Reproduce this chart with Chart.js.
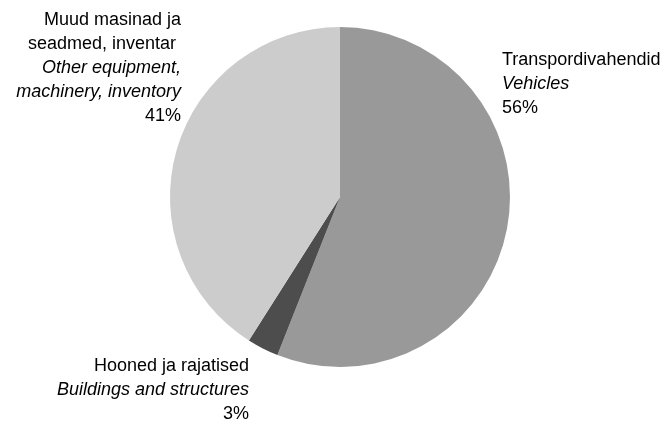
<!DOCTYPE html>
<html>
<head>
<meta charset="utf-8">
<script src="https://cdn.jsdelivr.net/npm/chart.js@4"></script>
<style>
  html, body { margin: 0; padding: 0; background: #fff; }
  #wrap { width: 661px; height: 421px; }
</style>
</head>
<body>
<div id="wrap"><canvas id="pie" width="661" height="421"></canvas></div>
<script>
// Põhivara struktuur / fixed assets by type
const categoriesEt = ['Transpordivahendid', 'Hooned ja rajatised', 'Muud masinad ja seadmed, inventar'];
const categoriesEn = ['Vehicles', 'Buildings and structures', 'Other equipment, machinery, inventory'];
const shares = [56, 3, 41];
const sliceColors = ['#999999', '#4d4d4d', '#cccccc'];

// label text as printed, line by line (italic lines are the english names)
const labelLines = [
    [['Transpordivahendid', false], ['Vehicles', true], ['56%', false]],
    [['Hooned ja rajatised', false], ['Buildings and structures', true], ['3%', false]],
    [['Muud masinad ja', false], ['seadmed, inventar ', false], ['Other equipment,', true], ['machinery, inventory', true], ['41%', false]]
];

// where each label block sits, relative to the pie centre
const labelPlace = [
    { dx: 162, dy: -132, align: 'left' },
    { dx: -91, dy: 174, align: 'right' },
    { dx: -159, dy: -172, align: 'right' }
];

const FONT = '"Liberation Sans", Arial, sans-serif';
const LINE_H = 24;

const pieLabels = {
    id: 'pieLabels',
    afterDraw(chart) {
        const ctx = chart.ctx;
        const arc = chart.getDatasetMeta(0).data[0];
        const cx = arc.x, cy = arc.y;
        ctx.save();
        ctx.fillStyle = '#000';
        ctx.textBaseline = 'alphabetic';
        labelLines.forEach((lines, i) => {
            const p = labelPlace[i];
            ctx.textAlign = p.align;
            lines.forEach(([txt, italic], j) => {
                ctx.font = (italic ? 'italic ' : '') + '18px ' + FONT;
                ctx.fillText(txt, cx + p.dx, cy + p.dy + j * LINE_H);
            });
        });
        ctx.restore();
    }
};

new Chart(document.getElementById('pie').getContext('2d'), {
    type: 'pie',
    data: {
        labels: categoriesEt.map((t, i) => t + ' / ' + categoriesEn[i]),
        datasets: [{
            data: shares,
            backgroundColor: sliceColors,
            borderWidth: 0
        }]
    },
    options: {
        responsive: false,
        animation: false,
        layout: { padding: { left: 170, right: 151, top: 27, bottom: 54 } },
        plugins: {
            legend: { display: false },
            tooltip: { enabled: false }
        }
    },
    plugins: [pieLabels]
});
</script>
</body>
</html>
